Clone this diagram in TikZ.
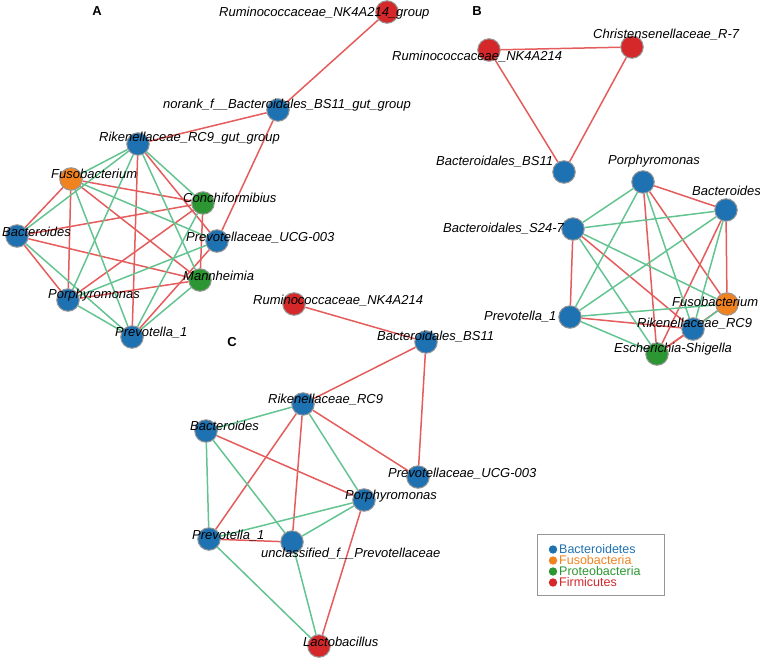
\documentclass[tikz,border=0pt]{standalone}
\usepackage{fontspec}
\setsansfont{Liberation Sans}
\usetikzlibrary{backgrounds}

\definecolor{bacc}{RGB}{31,114,178}
\definecolor{fusc}{RGB}{240,130,32}
\definecolor{proc}{RGB}{44,150,50}
\definecolor{firc}{RGB}{212,40,42}
\definecolor{rimgray}{RGB}{150,150,150}
\definecolor{edgered}{RGB}{228,92,92}
\definecolor{edgegreen}{RGB}{100,196,145}

\begin{document}
\begin{tikzpicture}[x=1pt,y=-1pt,
    taxon/.style={circle,draw=rimgray,line width=1pt,minimum size=22.5pt,inner sep=0pt},
    bac/.style={taxon,fill=bacc},
    fus/.style={taxon,fill=fusc},
    pro/.style={taxon,fill=proc},
    fir/.style={taxon,fill=firc},
    lab/.style={anchor=west,inner sep=0pt,text height=9.5pt,text depth=2.5pt,
        font=\fontsize{13}{15}\selectfont\sffamily\itshape},
    panel/.style={inner sep=0pt,font=\fontsize{13}{15}\selectfont\sffamily\bfseries},
    rl/.style={draw=edgered,line width=1.5pt},
    gl/.style={draw=edgegreen,line width=1.5pt}]
    \useasboundingbox (0,0) rectangle (760,659);

    % panel A
    \node[panel] (lA) at (97,11) {A};
    \node[fir] (aRum) at (387,12) {};
    \node[bac] (aNor) at (278,110) {};
    \node[bac] (aRik) at (138,144) {};
    \node[fus] (aFus) at (71,179) {};
    \node[pro] (aCon) at (203,203) {};
    \node[bac] (aBac) at (17,236) {};
    \node[bac] (aUcg) at (217,241) {};
    \node[pro] (aMan) at (200,280) {};
    \node[bac] (aPor) at (68,300) {};
    \node[bac] (aPre) at (132,337) {};

    % panel B
    \node[panel] (lB) at (477,11) {B};
    \node[fir] (bRum) at (489,50) {};
    \node[fir] (bChr) at (632,47) {};
    \node[bac] (bBs) at (564,172) {};
    \node[bac] (bPor) at (643,182) {};
    \node[bac] (bBac) at (726,210) {};
    \node[bac] (bS24) at (573,229) {};
    \node[bac] (bPre) at (570,317) {};
    \node[fus] (bFus) at (727,304) {};
    \node[bac] (bRik) at (693,329) {};
    \node[pro] (bEsc) at (657,354) {};

    % panel C
    \node[panel] (lC) at (232,342) {C};
    \node[fir] (cRum) at (294,304) {};
    \node[bac] (cBs) at (426,342) {};
    \node[bac] (cRik) at (303,404) {};
    \node[bac] (cBac) at (206,431) {};
    \node[bac] (cUcg) at (418,477) {};
    \node[bac] (cPor) at (364,500) {};
    \node[bac] (cPre) at (209,539) {};
    \node[bac] (cUnc) at (292,542) {};
    \node[fir] (cLac) at (319,646) {};

    % edges
    \begin{scope}[on background layer]
    \foreach \a/\b in {aRum/aNor,aNor/aRik,aNor/aUcg,
        aRik/aUcg,aRik/aPre,aFus/aBac,aFus/aCon,aFus/aMan,aFus/aPor,
        aBac/aCon,aBac/aMan,aBac/aPor,aCon/aMan,aCon/aPor,aUcg/aPre,aMan/aPor,
        bRum/bChr,bRum/bBs,bChr/bBs,
        bPor/bBac,bPor/bEsc,bPor/bFus,bBac/bEsc,bBac/bFus,
        bS24/bPre,bS24/bRik,bPre/bRik,bFus/bEsc,bRik/bEsc,
        cRum/cBs,cBs/cRik,cBs/cUcg,cRik/cPre,cRik/cUnc,cRik/cUcg,
        cBac/cPor,cPre/cUnc,cPor/cLac}
        \draw[rl] (\a) -- (\b);
    \foreach \a/\b in {aRik/aFus,aRik/aBac,aRik/aCon,aRik/aMan,aRik/aPor,
        aFus/aUcg,aFus/aPre,aBac/aPre,aCon/aPre,aUcg/aPor,aMan/aPre,aPor/aPre,
        bPor/bS24,bPor/bPre,bPor/bRik,bBac/bS24,bBac/bPre,bBac/bRik,
        bS24/bFus,bS24/bEsc,bPre/bFus,bPre/bEsc,bFus/bRik,
        cRik/cBac,cRik/cPor,cBac/cPre,cBac/cUnc,cPre/cPor,cPre/cLac,
        cUnc/cPor,cUnc/cLac}
        \draw[gl] (\a) -- (\b);
    \end{scope}

    % labels A
    \node[lab] (tRumA) at (219,13) {Ruminococcaceae\_NK4A214\_group};
    \node[lab] (tNor) at (163,105) {norank\_f\_\_Bacteroidales\_BS11\_gut\_group};
    \node[lab] (tRikA) at (99,138) {Rikenellaceae\_RC9\_gut\_group};
    \node[lab] (tFusA) at (51,175) {Fusobacterium};
    \node[lab] (tCon) at (183,199) {Conchiformibius};
    \node[lab] (tBacA) at (2,233) {Bacteroides};
    \node[lab] (tUcgA) at (186,238) {Prevotellaceae\_UCG-003};
    \node[lab] (tMan) at (183,277) {Mannheimia};
    \node[lab] (tPorA) at (48,295) {Porphyromonas};
    \node[lab] (tPreA) at (115,333) {Prevotella\_1};

    % labels B
    \node[lab] (tRumB) at (392,57) {Ruminococcaceae\_NK4A214};
    \node[lab] (tChr) at (593,35) {Christensenellaceae\_R-7};
    \node[lab] (tBsB) at (436,162) {Bacteroidales\_BS11};
    \node[lab] (tPorB) at (608,161) {Porphyromonas};
    \node[lab] (tBacB) at (692,192) {Bacteroides};
    \node[lab] (tS24) at (443,229) {Bacteroidales\_S24-7};
    \node[lab] (tPreB) at (484,317) {Prevotella\_1};
    \node[lab] (tFusB) at (672,303) {Fusobacterium};
    \node[lab] (tRikB) at (637,324) {Rikenellaceae\_RC9};
    \node[lab] (tEsc) at (614,349) {Escherichia-Shigella};

    % labels C
    \node[lab] (tRumC) at (253,301) {Ruminococcaceae\_NK4A214};
    \node[lab] (tBsC) at (377,337) {Bacteroidales\_BS11};
    \node[lab] (tRikC) at (268,400) {Rikenellaceae\_RC9};
    \node[lab] (tBacC) at (190,427) {Bacteroides};
    \node[lab] (tUcgC) at (388,474) {Prevotellaceae\_UCG-003};
    \node[lab] (tPorC) at (345,496) {Porphyromonas};
    \node[lab] (tPreC) at (192,536) {Prevotella\_1};
    \node[lab] (tUnc) at (261,554) {unclassified\_f\_\_Prevotellaceae};
    \node[lab] (tLac) at (303,643) {Lactobacillus};

    % legend
    \draw[rimgray,line width=0.8pt] (537,534) rectangle (664,595);
    \foreach \y/\c/\t [count=\i] in {549.5/bacc/Bacteroidetes,560.5/fusc/Fusobacteria,
        571.5/proc/Proteobacteria,582.5/firc/Firmicutes} {
        \fill[\c] (553,\y) circle (4.2);
        \node[anchor=west,inner sep=0pt,text=\c,font=\fontsize{12.5}{13}\selectfont\sffamily]
            (leg\i) at (559,\y) {\t};
    }
\end{tikzpicture}
\end{document}
